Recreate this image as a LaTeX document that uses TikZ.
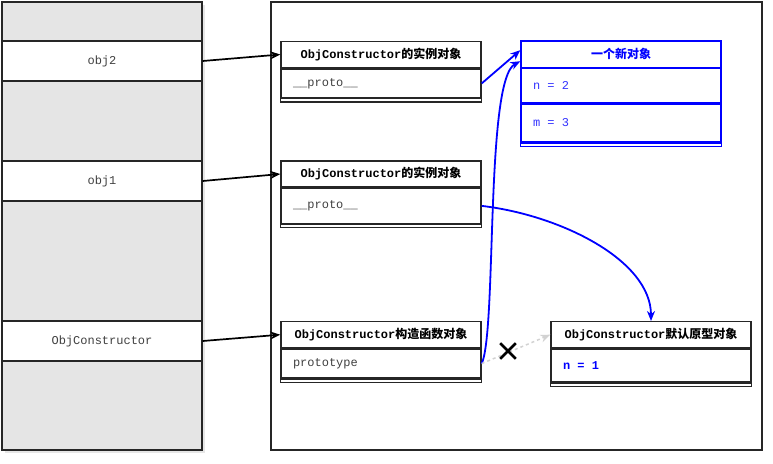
\documentclass[tikz,border=0pt]{standalone}
\usepackage{fontspec}
\setmonofont{Liberation Mono}
\newfontfamily\zh{Noto Sans CJK SC}
\usetikzlibrary{arrows.meta,shadows,shapes.misc}
\newcommand\ws{\hspace{0.6em}}

\begin{document}
\begin{tikzpicture}[x=1pt, y=-1pt,
    box/.style={draw=black!85, line width=1.4pt},
    slot/.style={box, fill=white, minimum width=200pt, minimum height=40pt, font=\ttfamily\fontsize{12}{14}\selectfont, text=black!75},
    head/.style={box, fill=white, minimum width=200pt, minimum height=26pt, inner sep=0pt, font=\ttfamily\bfseries\fontsize{12}{14}\selectfont},
    field/.style={box, text width=176pt, inner xsep=12pt, inner ysep=0pt, align=left, anchor=north, font=\ttfamily\fontsize{12}{14}\selectfont, text=black!75},
    ref/.style={line width=1.7pt, -{Stealth[length=10pt,width=8pt]}},
    link/.style={ref, blue, line width=1.8pt}]
  \useasboundingbox (0,0) rectangle (773,463);

  % stack
  \node[box, fill=gray!20, minimum width=200pt, minimum height=448pt, drop shadow={opacity=0.2, shadow xshift=3pt, shadow yshift=-3pt}] (stack) at (102,226) {};
  \foreach \name/\y/\txt in {obj2/61/obj2, obj1/181/obj1, ctor/341/ObjConstructor} {
    \node[slot] (\name) at (102,\y) {\txt};
  }

  % heap
  \node[box, minimum width=491pt, minimum height=448pt] (heap) at (516.5,226) {};

  \node[head] (inst2) at (381,54.5) {ObjConstructor{\zh 的实例对象}};
  \node[field, minimum height=29pt] (inst2p) at (inst2.south) {\_\_proto\_\_};
  \draw[box] (inst2p.south west) rectangle ([yshift=-3.5pt]inst2p.south east);

  \node[head] (inst1) at (381,174) {ObjConstructor{\zh 的实例对象}};
  \node[field, minimum height=35pt] (inst1p) at (inst1.south) {\_\_proto\_\_};
  \draw[box] (inst1p.south west) rectangle ([yshift=-3.5pt]inst1p.south east);

  \node[head] (ctorfn) at (381,334.7) {ObjConstructor{\zh 构造函数对象}};
  \node[field, minimum height=29pt] (ctorfnp) at (ctorfn.south) {prototype};
  \draw[box] (ctorfnp.south west) rectangle ([yshift=-3.5pt]ctorfnp.south east);

  \node[head] (defproto) at (651,334.7) {ObjConstructor{\zh 默认原型对象}};
  \node[field, minimum height=33pt, text=blue, font=\ttfamily\bfseries\fontsize{12}{14}\selectfont] (defn) at (defproto.south) {n\ws=\ws1};
  \draw[box] (defn.south west) rectangle ([yshift=-3.5pt]defn.south east);

  \node[head, draw=blue, text=blue, minimum height=26.3pt] (newobj) at (621,54.2) {\zh 一个新对象};
  \node[field, draw=blue, text=blue!80, minimum height=33.7pt] (newn) at (newobj.south) {n\ws=\ws2};
  \node[field, draw=blue, text=blue!80, minimum height=38.3pt] (newm) at (newn.south) {m\ws=\ws3};
  \draw[box, draw=blue] (newm.south west) rectangle ([yshift=-3.5pt]newm.south east);

  % references
  \draw[ref] (obj2.east) -- (inst2.west);
  \draw[ref] (obj1.east) -- (inst1.west);
  \draw[ref] (ctor.east) -- (ctorfn.west);

  \draw[link] (inst2p.east) -- ([yshift=4pt]newobj.west);
  \draw[link] (ctorfnp.east) .. controls (497,330) and (485,80) .. ([yshift=-7pt]newobj.west);
  \draw[link] (inst1p.east) .. controls (560,215) and (651,260) .. (defproto.north);

  \draw[ref, gray!35, dashed, line width=1.5pt] (ctorfnp.east) -- (defproto.west);
  \node[cross out, draw, line width=2.6pt, minimum size=13pt, inner sep=0pt] (cut) at (508,351) {};
\end{tikzpicture}
\end{document}
